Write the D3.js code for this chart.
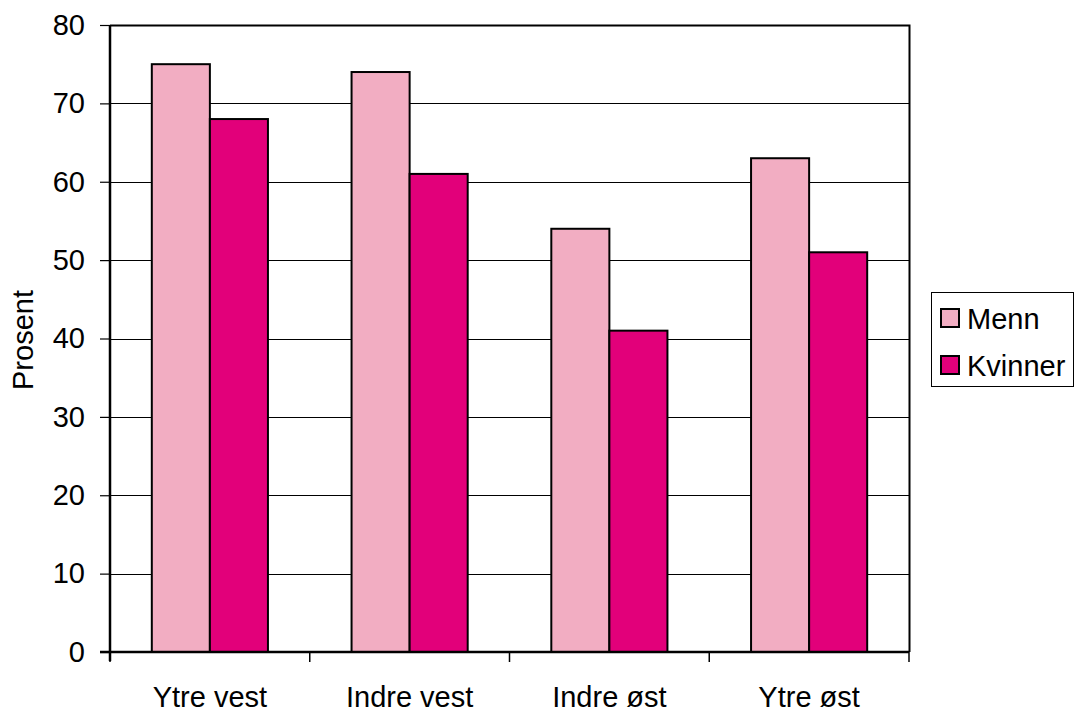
<!DOCTYPE html>
<html>
<head>
<meta charset="utf-8">
<script src="https://cdn.jsdelivr.net/npm/d3@7"></script>
<style>
  html, body { margin: 0; padding: 0; background: #fff; }
  svg { display: block; font-family: "Liberation Sans", Arial, sans-serif; }
</style>
</head>
<body>
<svg id="chart" width="1074" height="709"></svg>
<script>
// Andel (prosent) per region, menn og kvinner
const regions = ["Ytre vest", "Indre vest", "Indre øst", "Ytre øst"];
const seriesNames = ["Menn", "Kvinner"];
const menn = [75, 74, 54, 63];
const kvinner = [68, 61, 41, 51];
const yTicks = [0, 10, 20, 30, 40, 50, 60, 70, 80];
const colors = ["#F2ADC2", "#E2007A"];

const values = [menn, kvinner];
const fontSize = 29;
const svg = d3.select("#chart");

const plot = { left: 110, right: 909, top: 25, bottom: 652 };

const x = d3.scaleBand()
  .domain(regions)
  .range([plot.left, plot.right])
  .paddingInner(0)
  .paddingOuter(0);

// two bars per group, 72% gap width between groups
const gapRatio = 0.72;
const groupW = x.bandwidth() / (1 + gapRatio);
const x1 = d3.scaleBand()
  .domain(seriesNames)
  .range([0, groupW]);

const y = d3.scaleLinear().domain([0, 80]).range([plot.bottom, plot.top]);

// gridlines
svg.append("g")
  .selectAll("line")
  .data(yTicks.filter(t => t > 0))
  .join("line")
  .attr("x1", plot.left).attr("x2", plot.right)
  .attr("y1", d => Math.round(y(d)) + 0.5).attr("y2", d => Math.round(y(d)) + 0.5)
  .attr("stroke", "#000").attr("stroke-width", 1.2);

// plot border: top and right
svg.append("path")
  .attr("d", `M${plot.left},${Math.round(y(80)) + 0.5}H${plot.right + 0.5}V${plot.bottom}`)
  .attr("fill", "none").attr("stroke", "#000").attr("stroke-width", 2);

// bars
const groups = svg.append("g")
  .selectAll("g")
  .data(regions)
  .join("g")
  .attr("transform", r => `translate(${x(r) + (x.bandwidth() - groupW) / 2},0)`);

groups.selectAll("rect")
  .data((r, i) => seriesNames.map((s, k) => ({ s, k, v: values[k][i] })))
  .join("rect")
  .attr("x", d => x1(d.s))
  .attr("width", x1.bandwidth())
  .attr("y", d => y(d.v))
  .attr("height", d => y(0) - y(d.v))
  .attr("fill", d => colors[d.k])
  .attr("stroke", "#000")
  .attr("stroke-width", 2);

// y axis
const yAxis = d3.axisLeft(y).tickValues(yTicks).tickSize(10).tickPadding(15);
const gy = svg.append("g")
  .attr("transform", `translate(${plot.left},0)`)
  .call(yAxis);
gy.select(".domain").attr("stroke", "#000").attr("stroke-width", 2.5)
  .attr("d", `M0,${plot.top}V${plot.bottom + 9}`);
gy.selectAll(".tick line").attr("stroke", "#000").attr("stroke-width", 1.2);
gy.selectAll(".tick text")
  .attr("font-size", fontSize)
  .attr("fill", "#000")
  .attr("font-family", "Liberation Sans, Arial, sans-serif");

// x axis with ticks at category boundaries
const gx = svg.append("g")
  .attr("transform", `translate(0,${plot.bottom})`);
gx.append("line")
  .attr("x1", plot.left - 10).attr("x2", plot.right)
  .attr("stroke", "#000").attr("stroke-width", 2.5);
const boundaries = regions.map(r => x(r)).concat([x(regions[regions.length - 1]) + x.bandwidth()]);
gx.selectAll("line.b")
  .data(boundaries)
  .join("line")
  .attr("class", "b")
  .attr("x1", d => d).attr("x2", d => d)
  .attr("y1", 0).attr("y2", 10)
  .attr("stroke", "#000").attr("stroke-width", 1.5);
gx.selectAll("text")
  .data(regions)
  .join("text")
  .attr("x", r => x(r) + x.bandwidth() / 2)
  .attr("y", 55)
  .attr("text-anchor", "middle")
  .attr("font-size", fontSize)
  .attr("fill", "#000")
  .text(r => r);

// y axis title
svg.append("text")
  .attr("transform", `translate(33,340) rotate(-90)`)
  .attr("text-anchor", "middle")
  .attr("font-size", fontSize)
  .attr("fill", "#000")
  .text("Prosent");

// legend
const lg = svg.append("g").attr("transform", "translate(931,292)");
lg.append("rect")
  .attr("x", 0.5).attr("y", 0.5)
  .attr("width", 142).attr("height", 94)
  .attr("fill", "#fff").attr("stroke", "#000").attr("stroke-width", 1);
const items = lg.selectAll("g.item")
  .data(seriesNames)
  .join("g")
  .attr("class", "item")
  .attr("transform", (d, i) => `translate(0,${17 + i * 47})`);
items.append("rect")
  .attr("x", 10).attr("y", 0)
  .attr("width", 18).attr("height", 18)
  .attr("fill", (d, i) => colors[i])
  .attr("stroke", "#000").attr("stroke-width", 2);
items.append("text")
  .attr("x", 36).attr("y", 20)
  .attr("font-size", fontSize)
  .attr("fill", "#000")
  .text(d => d);
</script>
</body>
</html>
